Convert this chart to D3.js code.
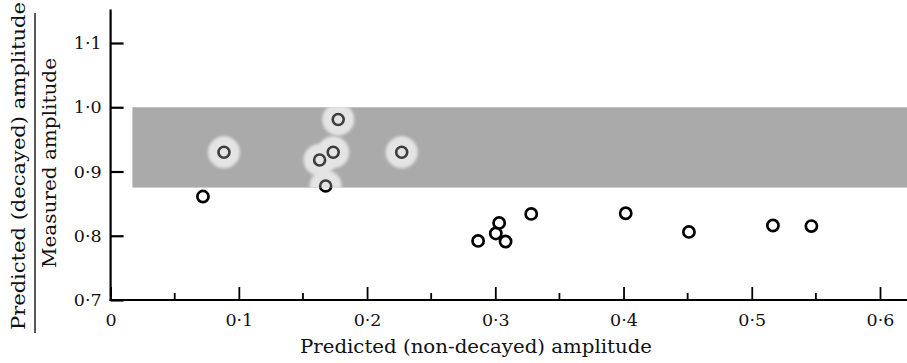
<!DOCTYPE html>
<html><head><meta charset="utf-8">
<script src="https://cdn.jsdelivr.net/npm/d3@7"></script>
<style>body{margin:0;background:#fff}svg{display:block}text{font-family:"DejaVu Serif","Liberation Serif",serif;fill:#111}</style>
</head><body><svg id="c" width="907" height="363"></svg>
<script>
// Points outside the shaded band
const xOut = [0.072, 0.2866, 0.3004, 0.303, 0.308, 0.328, 0.4017, 0.451, 0.5165, 0.5465];
const yOut = [0.861, 0.792, 0.8036, 0.820, 0.791, 0.834, 0.835, 0.806, 0.816, 0.815];
// Points inside the shaded band (with halos)
const xIn = [0.0884, 0.1775, 0.1736, 0.163, 0.1677, 0.227];
const yIn = [0.930, 0.981, 0.930, 0.918, 0.8775, 0.930];
// Shaded band extent
const bandX = [0.017, 0.65];
const bandY = [0.875, 1.0];
// Ticks
const yTicks = [0.7, 0.8, 0.9, 1.0, 1.1];
const xMajor = [0, 0.1, 0.2, 0.3, 0.4, 0.5, 0.6];
const xMinor = [0.05, 0.15, 0.25, 0.35, 0.45, 0.55];
const xTitle = "Predicted (non-decayed) amplitude";
const yTitleTop = "Predicted (decayed) amplitude";
const yTitleBottom = "Measured amplitude";

const svg = d3.select("#c");
const x = d3.scaleLinear().domain([0, 0.6]).range([110.6, 880]);
const y = d3.scaleLinear().domain([0.7, 1.1]).range([300, 43]);
const fmt = v => v === 0 ? "0" : d3.format(".1f")(v).replace(".", "\u00B7");

const bx = x(bandX[0]), by = y(bandY[1]), bw = x(bandX[1]) - x(bandX[0]), bh = y(bandY[0]) - y(bandY[1]);
const defs = svg.append("defs");
defs.append("clipPath").attr("id", "bandClip").append("rect")
  .attr("x", bx).attr("y", by).attr("width", bw).attr("height", bh);
const mask = defs.append("mask").attr("id", "outMask");
mask.append("rect").attr("x", 0).attr("y", 0).attr("width", 907).attr("height", 363).attr("fill", "#fff");
mask.append("rect").attr("x", bx).attr("y", by).attr("width", bw).attr("height", bh).attr("fill", "#000");
defs.append("filter").attr("id", "blur").attr("x", "-50%").attr("y", "-50%").attr("width", "200%").attr("height", "200%")
  .append("feGaussianBlur").attr("stdDeviation", 1.8);

// band
svg.append("rect").attr("x", bx).attr("y", by).attr("width", bw).attr("height", bh).attr("fill", "#aaaaaa");

const inPts = xIn.map((v, i) => [v, yIn[i]]);
const gIn = svg.append("g").attr("clip-path", "url(#bandClip)");
gIn.selectAll("circle.halo").data(inPts).join("circle").attr("class", "halo")
  .attr("cx", d => x(d[0])).attr("cy", d => y(d[1])).attr("r", 16)
  .attr("fill", "#e4e4e4").attr("filter", "url(#blur)");
gIn.selectAll("circle.pt").data(inPts).join("circle").attr("class", "pt")
  .attr("cx", d => x(d[0])).attr("cy", d => y(d[1])).attr("r", 5.5)
  .attr("fill", "none").attr("stroke", "#3e3e3e").attr("stroke-width", 2.6);
// parts of band points that fall outside the band are drawn black
svg.append("g").attr("mask", "url(#outMask)").selectAll("circle").data(inPts).join("circle")
  .attr("cx", d => x(d[0])).attr("cy", d => y(d[1])).attr("r", 5.5)
  .attr("fill", "none").attr("stroke", "#000").attr("stroke-width", 2.8);

const outPts = xOut.map((v, i) => [v, yOut[i]]);
svg.selectAll("circle.out").data(outPts).join("circle").attr("class", "out")
  .attr("cx", d => x(d[0])).attr("cy", d => y(d[1])).attr("r", 5.6)
  .attr("fill", "none").attr("stroke", "#000").attr("stroke-width", 2.7);

// Y axis
const yAx = svg.append("g").attr("transform", `translate(${x(0)},0)`)
  .call(d3.axisLeft(y).tickValues(yTicks).tickSize(-13).tickPadding(9).tickFormat(fmt));
yAx.select(".domain").remove();
yAx.selectAll(".tick line").attr("stroke", "#000").attr("stroke-width", 2.2);
yAx.selectAll(".tick text").attr("font-size", 17.5).attr("font-family", null).attr("fill", "#111");
yAx.append("line").attr("x1", 0).attr("x2", 0).attr("y1", y(1.152)).attr("y2", y(0.7) + 1)
  .attr("stroke", "#000").attr("stroke-width", 2.2);

// X axis
const xAx = svg.append("g").attr("transform", `translate(0,${y(0.7)})`)
  .call(d3.axisBottom(x).tickValues(xMajor).tickSize(-13).tickPadding(14).tickFormat(fmt));
xAx.select(".domain").remove();
xAx.selectAll(".tick line").attr("stroke", "#000").attr("stroke-width", 1.8);
xAx.selectAll(".tick text").attr("font-size", 17.5).attr("font-family", null).attr("fill", "#111");
xAx.selectAll(".minor").data(xMinor).join("line").attr("class", "minor")
  .attr("x1", d => x(d)).attr("x2", d => x(d)).attr("y1", 0).attr("y2", -7)
  .attr("stroke", "#000").attr("stroke-width", 1.8);
xAx.append("line").attr("x1", x(0) - 1).attr("x2", 907).attr("y1", 0).attr("y2", 0)
  .attr("stroke", "#000").attr("stroke-width", 2.2);

// Titles
svg.append("text").attr("x", 476).attr("y", 353).attr("text-anchor", "middle")
  .attr("font-size", 19).attr("textLength", 352).attr("lengthAdjust", "spacingAndGlyphs").text(xTitle);
svg.append("text").attr("transform", "translate(25,166) rotate(-90)").attr("text-anchor", "middle")
  .attr("font-size", 19).attr("textLength", 328).attr("lengthAdjust", "spacingAndGlyphs").text(yTitleTop);
svg.append("line").attr("x1", 35).attr("x2", 35).attr("y1", 13).attr("y2", 333)
  .attr("stroke", "#000").attr("stroke-width", 1.3);
svg.append("text").attr("transform", "translate(56,163) rotate(-90)").attr("text-anchor", "middle")
  .attr("font-size", 19).attr("textLength", 210).attr("lengthAdjust", "spacingAndGlyphs").text(yTitleBottom);
</script></body></html>
